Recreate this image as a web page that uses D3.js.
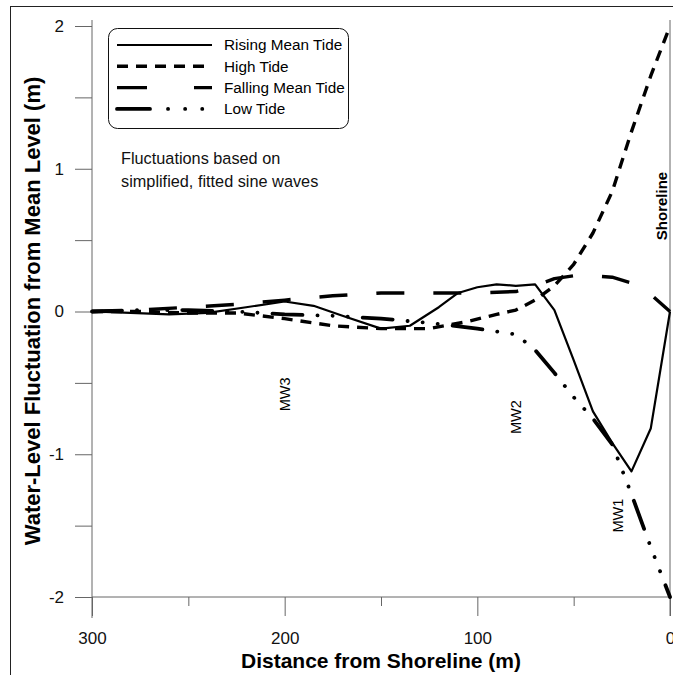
<!DOCTYPE html>
<html>
<head>
<meta charset="utf-8">
<script src="https://cdn.jsdelivr.net/npm/d3@7"></script>
<style>
  body { margin: 0; background: #fff; }
  text { font-family: "Liberation Sans", Arial, sans-serif; }
</style>
</head>
<body>
<script>
// distances from shoreline (m) and water-level fluctuations (m)
const risingDist = [300, 280, 260, 240, 220, 200, 185, 170, 150, 135, 120, 110, 100, 90, 80, 70, 60, 50, 40, 30, 20, 10, 0];
const risingVal  = [0, -0.01, -0.02, -0.01, 0.03, 0.07, 0.04, -0.03, -0.12, -0.1, 0.03, 0.13, 0.17, 0.19, 0.18, 0.19, 0.01, -0.34, -0.7, -0.92, -1.12, -0.82, 0];

const highDist = [300, 275, 250, 225, 200, 175, 150, 125, 105, 90, 80, 70, 60, 50, 40, 30, 20, 10, 0];
const highVal  = [0, 0, -0.01, -0.01, -0.05, -0.1, -0.12, -0.12, -0.07, -0.02, 0.01, 0.08, 0.18, 0.33, 0.55, 0.84, 1.26, 1.65, 2.0];

const fallDist = [300, 275, 250, 225, 200, 175, 150, 125, 100, 80, 70, 60, 50, 40, 30, 20, 10, 0];
const fallVal  = [0, 0.01, 0.03, 0.05, 0.08, 0.11, 0.13, 0.13, 0.13, 0.14, 0.18, 0.23, 0.25, 0.25, 0.24, 0.2, 0.12, 0];

const lowDist = [300, 275, 250, 225, 200, 175, 150, 125, 100, 90, 80, 70, 60, 50, 40, 30, 20, 10, 0];
const lowVal  = [0, 0.01, 0.01, 0, -0.02, -0.03, -0.05, -0.08, -0.12, -0.14, -0.16, -0.27, -0.43, -0.6, -0.75, -0.93, -1.28, -1.65, -2.0];

const seriesNames = ["Rising Mean Tide", "High Tide", "Falling Mean Tide", "Low Tide"];
const xTicks = [300, 250, 200, 150, 100, 50, 0];
const yTicks = [-2, -1.5, -1, -0.5, 0, 0.5, 1, 1.5, 2];
const wells = [{name: "MW3", d: 200, v: -0.58}, {name: "MW2", d: 80, v: -0.74}, {name: "MW1", d: 27, v: -1.43}];

const W = 673, H = 675;
const svg = d3.select("body").append("svg").attr("width", W).attr("height", H);

const x = d3.scaleLinear().domain([300, 0]).range([92, 670]);
const y = d3.scaleLinear().domain([-2, 2]).range([597, 26]);

// outer frame
svg.append("rect").attr("x", 10.5).attr("y", 6.5).attr("width", 700).attr("height", 700)
  .attr("fill", "none").attr("stroke", "#222").attr("stroke-width", 1);

const axisColor = "#666";

// y axis
const yAx = svg.append("g").attr("transform", "translate(92,0)")
  .call(d3.axisLeft(y).tickValues(yTicks).tickSize(17).tickPadding(11)
    .tickFormat(d => Number.isInteger(d) ? String(d) : ""));
yAx.select(".domain").remove();
yAx.selectAll(".tick line").attr("stroke", axisColor);
yAx.selectAll(".tick text").attr("font-size", 17).attr("fill", "#111")
  .attr("font-family", "Liberation Sans, Arial, sans-serif");

// x axis
const xAx = svg.append("g").attr("transform", "translate(0,597)")
  .call(d3.axisBottom(x).tickValues(xTicks).tickSize(0).tickPadding(35).tickFormat(d => d % 100 === 0 ? d : ""));
xAx.select(".domain").remove();
xAx.selectAll(".tick").append("line").attr("y1", 0)
  .attr("y2", d => d % 100 === 0 ? 19 : 9).attr("stroke", axisColor);
xAx.selectAll(".tick text").attr("font-size", 17).attr("fill", "#111")
  .attr("font-family", "Liberation Sans, Arial, sans-serif");

svg.append("line").attr("x1", 92).attr("x2", 670).attr("y1", 597).attr("y2", 597).attr("stroke", axisColor);
svg.append("line").attr("x1", 92).attr("x2", 92).attr("y1", 20).attr("y2", 618).attr("stroke", axisColor);
svg.append("line").attr("x1", 670).attr("x2", 670).attr("y1", 20).attr("y2", 616).attr("stroke", axisColor);

// axis titles
svg.append("text").attr("x", 381).attr("y", 668).attr("text-anchor", "middle")
  .attr("font-size", 21).attr("font-weight", "bold").text("Distance from Shoreline (m)");
svg.append("text").attr("transform", "translate(40,311) rotate(-90)").attr("text-anchor", "middle")
  .attr("font-size", 22).attr("font-weight", "bold").text("Water-Level Fluctuation from Mean Level (m)");

// series
const styles = [
  {dash: null, width: 2.2, cap: "butt"},
  {dash: "11,8", width: 3.4, cap: "butt"},
  {dash: "28,29", width: 3.4, cap: "butt"},
  {dash: "30,15,0.1,15,0.1,15,0.1,15", width: 3.8, cap: "round"}
];
const series = [
  d3.zip(risingDist, risingVal),
  d3.zip(highDist, highVal),
  d3.zip(fallDist, fallVal),
  d3.zip(lowDist, lowVal)
];
const line = d3.line().x(d => x(d[0])).y(d => y(d[1]));

svg.append("g").attr("fill", "none").attr("stroke", "#000")
  .selectAll("path")
  .data(series)
  .join("path")
  .attr("d", line)
  .attr("stroke-width", (d, i) => styles[i].width)
  .attr("stroke-dasharray", (d, i) => styles[i].dash)
  .attr("stroke-linecap", (d, i) => styles[i].cap)
  .attr("stroke-linejoin", "round");

// well labels
svg.append("g").selectAll("text")
  .data(wells)
  .join("text")
  .attr("transform", d => `translate(${x(d.d) + 5},${y(d.v)}) rotate(-90)`)
  .attr("text-anchor", "middle")
  .attr("font-size", 14.5)
  .text(d => d.name);

svg.append("text").attr("transform", "translate(667,206) rotate(-90)").attr("text-anchor", "middle")
  .attr("font-size", 15).attr("font-weight", "bold").text("Shoreline");

// note
const note = svg.append("text").attr("font-size", 16.3).attr("fill", "#111");
note.append("tspan").attr("x", 121).attr("y", 164).text("Fluctuations based on");
note.append("tspan").attr("x", 121).attr("y", 187).text("simplified, fitted sine waves");

// legend
const lg = svg.append("g");
lg.append("rect").attr("x", 108.5).attr("y", 28.5).attr("width", 240).attr("height", 100)
  .attr("rx", 9).attr("fill", "#fff").attr("stroke", "#111").attr("stroke-width", 1);
const rows = lg.selectAll("g.row")
  .data(seriesNames)
  .join("g")
  .attr("class", "row")
  .attr("transform", (d, i) => `translate(0,${45 + i * 21.3})`);
rows.append("line").attr("x1", 117).attr("x2", 212).attr("y1", 0).attr("y2", 0)
  .attr("stroke", "#000")
  .attr("stroke-width", (d, i) => styles[i].width)
  .attr("stroke-dasharray", (d, i) => i === 2 ? "30,47" : i === 3 ? "33,18,0.1,17,0.1,17,0.1,40" : styles[i].dash)
  .attr("stroke-linecap", (d, i) => styles[i].cap);
rows.append("text").attr("x", 224).attr("y", 0).attr("dy", "0.35em")
  .attr("font-size", 15.3).text(d => d);
</script>
</body>
</html>
